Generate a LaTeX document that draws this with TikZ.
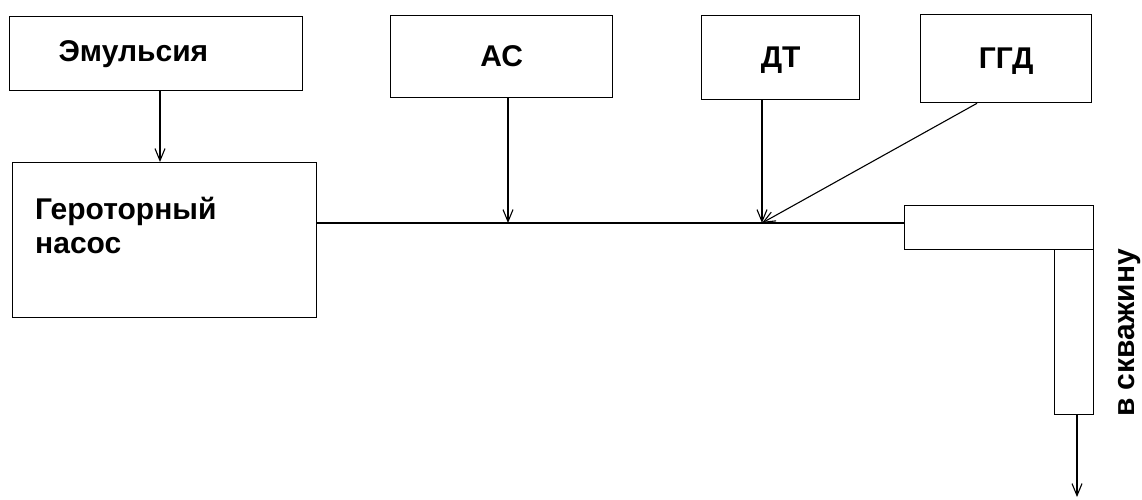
\documentclass[tikz,border=0pt]{standalone}
\usepackage{fontspec}
\setmainfont{Liberation Sans}
\usetikzlibrary{arrows.meta,positioning}

\begin{document}
\begin{tikzpicture}[x=1pt,y=-1pt,
  box/.style={draw,line width=1.3pt,inner sep=0pt,font=\fontsize{30}{34}\selectfont\bfseries},
  flow/.style={draw,line width=1.1pt,-{Straight Barb[length=12pt,width=10pt]}},
  pipe/.style={draw,line width=1.3pt,inner sep=0pt}
]
  \useasboundingbox (0,0) rectangle (1142,499);
  % source boxes
  \node[box,minimum width=293pt,minimum height=74pt,text width=195pt,align=left,
    inner xsep=49pt,anchor=north west] (emul) at (9,16) {Эмульсия};
  \node[box,minimum width=222pt,minimum height=82pt,anchor=north west] (as) at (390,15) {АС};
  \node[box,minimum width=158pt,minimum height=84pt,text depth=-6pt,anchor=north west] (dt) at (701,15) {ДТ};
  \node[box,minimum width=171pt,minimum height=88pt,text depth=-6pt,anchor=north west] (ggd) at (920,14) {ГГД};
  % pump
  \node[box,minimum width=304pt,minimum height=155pt,anchor=north west] (pump) at (12,162) {};
  \node[font=\fontsize{30}{34}\selectfont\bfseries,align=left,anchor=north west,inner sep=0pt]
    (pumptxt) at (35,197) {Героторный\\насос};
  % pipe to the well
  \node[pipe,minimum width=189pt,minimum height=44pt,anchor=north west] (pipeh) at (904,205) {};
  \node[pipe,minimum width=39pt,minimum height=165pt,anchor=north west] (pipev) at (1054,249) {};
  \node[font=\fontsize{30}{34}\selectfont\bfseries,rotate=90,inner sep=0pt] (welltxt) at (1130,333) {в скважину};
  % junctions on the main line
  \coordinate (jas) at (508,223);
  \coordinate (jdt) at (762,223);
  \coordinate (well) at (1077,497);
  \draw[line width=1.1pt] (pump.east |- 0,223) -- (pipeh.west |- 0,223);
  \draw[flow] (emul.south -| 160,0) -- (pump.north -| 160,0);
  \draw[flow] (as.south -| jas) -- (jas);
  \draw[flow] (dt.south -| jdt) -- (jdt);
  \draw[flow] (ggd.south -| 977,0) -- (jdt);
  \draw[flow] (pipev.south -| well) -- (well);
\end{tikzpicture}
\end{document}
